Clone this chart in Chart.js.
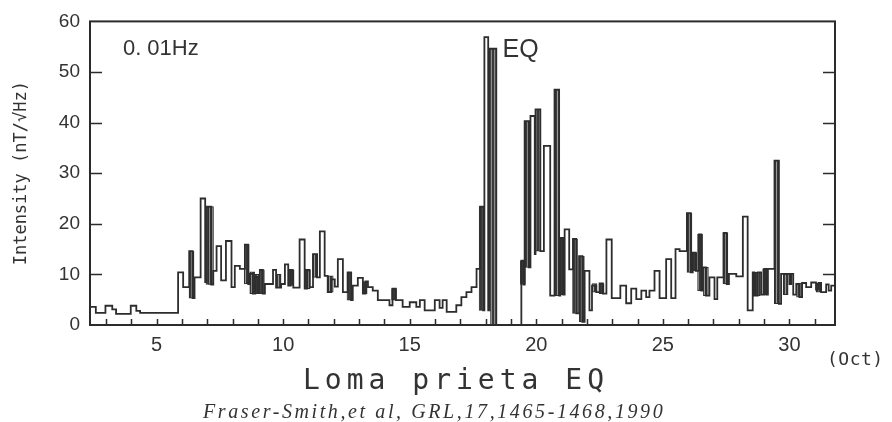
<!DOCTYPE html>
<html>
<head>
<meta charset="utf-8">
<title>Loma prieta EQ - 0.01Hz</title>
<script src="https://cdn.jsdelivr.net/npm/chart.js@4.4.1/dist/chart.umd.min.js"></script>
<style>
    body { margin: 0; background: #fff; }
    #wrap { position: relative; width: 892px; height: 422px; }
    #wrap div { position: absolute; color: #333; white-space: nowrap; }
    #oct { left: 827px; top: 350px; font: 18px/18px 'DejaVu Sans Mono', monospace; letter-spacing: 0.5px; }
    #caption { left: 303px; top: 366px; font: 28px/28px 'DejaVu Sans Mono', monospace; letter-spacing: 5px; }
    #cite { left: 203px; top: 401px; font: italic 20px/20px 'Liberation Serif', serif; letter-spacing: 2.6px; }
</style>
</head>
<body>
<div id="wrap">
    <canvas id="ulfChart" width="892" height="422"></canvas>
    <div id="oct">(Oct)</div>
    <div id="caption">Loma prieta EQ</div>
    <div id="cite">Fraser-Smith,et al, GRL,17,1465-1468,1990</div>
</div>
<script>
// ULF magnetic noise at 0.01 Hz around the Loma Prieta earthquake

// step trace: day of October, intensity (nT/√Hz) held until the next day
const stepDays = [
    2.37, 2.6, 2.98, 3.25, 3.4, 3.98, 4.2, 4.35, 5.85, 6.05,
    6.29, 6.42, 6.5, 6.74, 6.92, 6.95, 7.16, 7.24, 7.37, 7.55,
    7.74, 7.96, 8.09, 8.29, 8.49, 8.62, 8.68, 8.8, 8.9, 9.0,
    9.08, 9.2, 9.28, 9.6, 9.72, 9.92, 10.07, 10.2, 10.3, 10.4,
    10.65, 10.85, 10.95, 11.05, 11.18, 11.34, 11.45, 11.64, 11.76, 11.9,
    12.04, 12.16, 12.36, 12.55, 12.68, 12.75, 12.95, 13.15, 13.25, 13.35,
    13.54, 13.74, 14.2, 14.32, 14.45, 14.72, 15.0, 15.26, 15.4, 15.59,
    15.99, 16.18, 16.3, 16.46, 16.84, 17.04, 17.24, 17.44, 17.64, 17.78,
    17.9, 17.95, 18.1, 18.16, 18.42, 19.41, 19.5, 19.54, 19.7, 19.77,
    19.94, 19.97, 20.16, 20.3, 20.55, 20.72, 20.9, 20.95, 21.06, 21.12,
    21.3, 21.45, 21.58, 21.69, 21.82, 21.91, 22.1, 22.2, 22.37, 22.5,
    22.63, 22.77, 22.98, 23.32, 23.55, 23.75, 23.95, 24.15, 24.34, 24.47,
    24.67, 24.87, 25.13, 25.33, 25.5, 25.66, 25.95, 26.1, 26.18, 26.3,
    26.42, 26.52, 26.58, 26.7, 26.84, 27.04, 27.15, 27.4, 27.52, 27.61,
    27.9, 28.16, 28.35, 28.55, 28.62, 28.75, 28.88, 29.0, 29.08, 29.15,
    29.41, 29.58, 29.67, 30.0, 30.07, 30.15, 30.27, 30.4, 30.5, 30.66,
    30.86, 31.05, 31.15, 31.25, 31.45, 31.55, 31.65, 31.84
];
const stepValues = [
    3.6, 2.4, 3.8, 3.1, 2.2, 3.8, 2.8, 2.4, 10.4, 7.5,
    14.6, 5.3, 9.4, 25.0, 8.5, 23.4, 8.0, 10.7, 15.6, 8.8,
    16.6, 7.5, 11.7, 11.1, 15.9, 8.1, 10.1, 6.2, 9.5, 6.5,
    10.9, 6.2, 8.1, 10.9, 7.4, 8.1, 12.0, 7.8, 10.8, 7.4,
    16.9, 7.2, 10.8, 7.5, 14.0, 9.4, 18.5, 9.7, 6.5, 9.0,
    7.6, 13.0, 6.5, 10.4, 4.9, 7.8, 9.3, 6.2, 8.6, 7.5,
    6.8, 4.9, 3.9, 7.2, 4.9, 3.6, 4.5, 3.6, 4.9, 2.9,
    4.9, 3.4, 4.9, 2.6, 3.9, 5.5, 6.5, 7.5, 11.1, 23.4,
    2.9, 56.9, 2.9, 54.6, 0, 12.7, 8.0, 40.3, 11.4, 41.3,
    14.0, 42.6, 14.6, 35.4, 5.8, 46.5, 5.8, 17.2, 6.0, 18.9,
    11.0, 17.0, 2.3, 13.6, 0.6, 10.7, 2.9, 7.8, 6.5, 8.2,
    6.2, 16.9, 5.3, 7.8, 4.3, 7.2, 5.1, 6.8, 5.5, 6.8,
    10.7, 5.3, 13.0, 5.3, 15.0, 14.6, 22.1, 10.4, 14.3, 10.7,
    17.9, 6.8, 11.4, 5.8, 9.4, 5.1, 9.4, 18.2, 8.1, 10.1,
    9.6, 21.4, 2.9, 10.4, 5.8, 10.4, 6.0, 11.1, 6.0, 11.1,
    32.5, 4.2, 10.1, 8.1, 10.1, 6.0, 8.1, 5.5, 8.3, 7.5,
    8.4, 7.0, 8.3, 6.5, 8.0, 6.8, 7.8, 7.8
];

// densely shaded spikes: centre day, lower and upper intensity
const shadeDays = [
    6.38, 7.05, 7.15, 8.56, 8.78, 8.98, 9.16, 9.82, 10.3, 10.97,
    11.26, 11.88, 12.62, 13.22, 14.38, 17.84, 18.29, 19.47, 19.65, 20.07,
    20.83, 21.03, 21.53, 21.8, 22.3, 22.58, 26.05, 26.25, 26.47, 26.7,
    27.47, 28.75, 29.04, 29.5, 29.85, 30.38, 31.15
];
const shadeLow = [
    5.3, 8.0, 8.0, 8.1, 6.2, 6.2, 6.2, 7.4, 7.8, 7.2,
    9.4, 6.5, 4.9, 6.2, 4.9, 2.9, 0, 8.0, 11.4, 14.6,
    5.8, 6.0, 2.3, 0.6, 6.5, 6.2, 10.4, 10.7, 6.8, 5.8,
    8.1, 5.8, 6.0, 4.2, 6.0, 5.5, 6.5
];
const shadeHigh = [
    14.6, 23.4, 23.4, 15.9, 10.5, 10.0, 10.9, 10.0, 11.0, 11.0,
    14.0, 9.7, 10.4, 8.6, 7.2, 23.4, 54.6, 12.7, 40.3, 42.6,
    46.5, 17.2, 17.0, 13.6, 8.2, 8.2, 22.1, 14.3, 17.9, 11.4,
    18.2, 10.4, 11.1, 32.5, 10.0, 8.3, 8.3
];

const xTicks = [3, 4, 5, 6, 7, 8, 9, 10, 11, 12, 13, 14, 15, 16, 17, 18, 19, 20, 21, 22, 23, 24, 25, 26, 27, 28, 29, 30, 31];
const xLabels = [5, 10, 15, 20, 25, 30];
const yTicks = [0, 10, 20, 30, 40, 50, 60];

const ink = '#2d2d2d';

function makeHatch(ctx) {
    const c = document.createElement('canvas');
    c.width = 3;
    c.height = 1;
    const g = c.getContext('2d');
    g.fillStyle = '#9a9a9a';
    g.fillRect(0, 0, 3, 1);
    g.fillStyle = '#3a3a3a';
    g.fillRect(0, 0, 2, 1);
    return ctx.createPattern(c, 'repeat');
}

// box frame with inward tick marks
const frameTicks = {
    id: 'frameTicks',
    afterDatasetsDraw(chart) {
        const { ctx, chartArea: a, scales: { x, y } } = chart;
        ctx.save();
        ctx.strokeStyle = '#2b2b2b';
        ctx.lineWidth = 2;
        ctx.strokeRect(a.left, a.top, a.right - a.left, a.bottom - a.top);
        ctx.lineWidth = 1.5;
        ctx.beginPath();
        xTicks.forEach(v => {
            const px = Math.round(x.getPixelForValue(v)) + 0.5;
            ctx.moveTo(px, a.bottom);
            ctx.lineTo(px, a.bottom - 6);
        });
        yTicks.slice(1, -1).forEach(v => {
            const py = Math.round(y.getPixelForValue(v)) + 0.5;
            ctx.moveTo(a.left, py);
            ctx.lineTo(a.left + 12, py);
            ctx.moveTo(a.right, py);
            ctx.lineTo(a.right - 12, py);
        });
        ctx.stroke();
        ctx.restore();
    }
};

// notes written inside the plot
const plotNotes = {
    id: 'plotNotes',
    afterDraw(chart) {
        const { ctx, scales: { x, y } } = chart;
        ctx.save();
        ctx.fillStyle = '#333';
        ctx.textBaseline = 'middle';
        ctx.font = '22px "Liberation Sans"';
        ctx.fillText('0. 01Hz', x.getPixelForValue(3.67), y.getPixelForValue(54.6));
        ctx.font = '25px "Liberation Sans"';
        ctx.fillText('EQ', x.getPixelForValue(18.67), y.getPixelForValue(54.4));
        ctx.restore();
    }
};

const ctx = document.getElementById('ulfChart').getContext('2d');

new Chart(ctx, {
    type: 'line',
    data: {
        datasets: [
            {
                type: 'line',
                label: '0.01Hz',
                data: stepDays.map((d, i) => ({ x: d, y: stepValues[i] })),
                stepped: true,
                borderColor: ink,
                borderWidth: 1.8,
                pointRadius: 0,
                fill: false,
                order: 0
            },
            {
                type: 'bar',
                label: 'shaded',
                data: shadeDays.map((d, i) => ({ x: d, y: [shadeLow[i], shadeHigh[i]] })),
                backgroundColor: makeHatch(ctx),
                borderColor: ink,
                borderWidth: 1,
                borderSkipped: false,
                barThickness: 5,
                grouped: false,
                order: 1
            }
        ]
    },
    options: {
        responsive: false,
        animation: false,
        layout: { padding: { top: 17, right: 57, left: 0, bottom: 0 } },
        plugins: {
            legend: { display: false },
            tooltip: { enabled: false }
        },
        scales: {
            x: {
                type: 'linear',
                min: 2.37,
                max: 31.8,
                offset: false,
                grid: { display: false, drawTicks: false },
                border: { display: false },
                afterBuildTicks: s => { s.ticks = xTicks.map(v => ({ value: v })); },
                afterFit: s => { s.height = 97; },
                ticks: {
                    autoSkip: false,
                    maxRotation: 0,
                    padding: 8,
                    color: '#333',
                    font: { family: 'Liberation Sans', size: 20 },
                    callback: v => xLabels.includes(v) ? String(v) : ''
                }
            },
            y: {
                min: 0,
                max: 60,
                grid: { display: false, drawTicks: false },
                border: { display: false },
                afterBuildTicks: s => { s.ticks = yTicks.map(v => ({ value: v })); },
                afterFit: s => { s.width = 90; },
                ticks: {
                    padding: 10,
                    color: '#333',
                    font: { family: 'Liberation Sans', size: 19 }
                },
                title: {
                    display: true,
                    text: 'Intensity (nT/√Hz)',
                    color: '#333',
                    font: { family: 'DejaVu Sans Mono', size: 17 },
                    padding: { top: 11, bottom: 0 }
                }
            }
        }
    },
    plugins: [frameTicks, plotNotes]
});
</script>
</body>
</html>
